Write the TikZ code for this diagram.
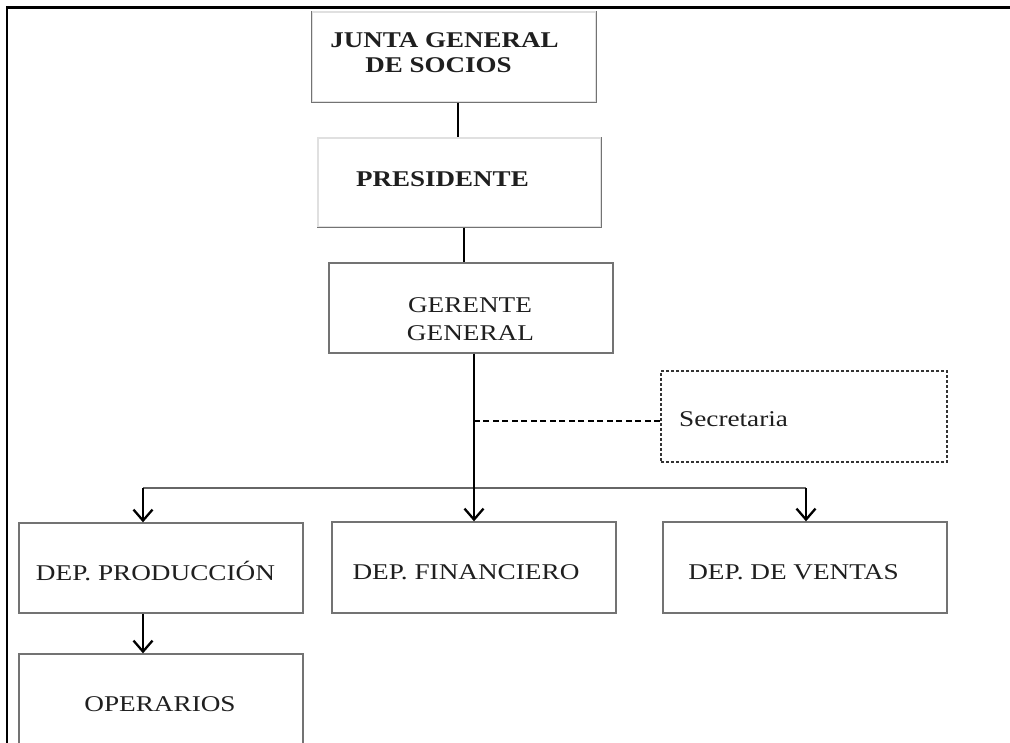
\documentclass[tikz,border=0pt]{standalone}
\usepackage{fontspec}
\setmainfont{Liberation Serif}
\usepackage{graphicx}
\usetikzlibrary{arrows.meta}
\newcommand{\sxr}[1]{\scalebox{1.21}[1]{#1}}
\newcommand{\sxb}[1]{\scalebox{1.2}[1]{#1}}
\begin{document}
\begin{tikzpicture}[x=1pt,y=-1pt,
  box/.style={draw=black!55, line width=1.3pt, inner sep=0pt, minimum width=284pt, minimum height=90pt},
  faintbox/.style={box, draw=black!12},
  boxline/.style={draw=black!55, line width=1.3pt},
  secbox/.style={box, draw=black!80, line width=1.8pt, dash pattern=on 3pt off 2pt, minimum width=286pt, minimum height=91pt},
  txt/.style={anchor=base, inner sep=0pt, text=black!88, font=\fontsize{22.5}{27}\selectfont},
  btxt/.style={txt, font=\fontsize{22.5}{27}\selectfont\bfseries},
  link/.style={draw=black, line width=1.3pt},
  trunk/.style={draw=black, line width=2.6pt},
  bus/.style={draw=black!60, line width=1.4pt},
  arr/.style={draw=black, line width=2.3pt, line join=round, -{Straight Barb[length=11pt,width=19pt]}},
  dashlink/.style={draw=black, line width=1.6pt, dash pattern=on 6pt off 3.5pt}
]
\useasboundingbox (0,0) rectangle (1010,743);
\clip (0,0) rectangle (1010,743);
\fill[white] (0,0) rectangle (1010,743);

% outer frame (left and top only)
\draw[line width=2.4pt] (7,745) -- (7,7.5) -- (1012,7.5);

% boxes
\node[faintbox] (jun) at (454,57) {};
\draw[boxline] (jun.north west) -- (jun.south west) -- (jun.south east) -- (jun.north east);
\node[faintbox, minimum width=283pt, minimum height=89pt] (pres) at (459.5,182.5) {};
\draw[boxline] (pres.north east) -- (pres.south east) -- (pres.south west);
\node[box] (ger) at (471,308) {};
\node[secbox] (sec) at (804,416.5) {};
\node[box] (prod) at (161,568) {};
\node[box, minimum height=91pt] (fin) at (474,567.5) {};
\node[box, minimum height=91pt] (ven) at (805,567.5) {};
\node[box, minimum height=100pt] (oper) at (161,704) {};

% texts
\node[btxt] (junA) at (444.5,48) {\sxb{JUNTA GENERAL}};
\node[btxt] (junB) at (438.5,73) {\sxb{DE SOCIOS}};
\node[btxt] (presT) at (442.5,187) {\sxb{PRESIDENTE}};
\node[txt] (gerA) at (470,313) {\sxr{GERENTE}};
\node[txt] (gerB) at (470.5,341) {\sxr{GENERAL}};
\node[txt, anchor=base west] (secT) at (679,427) {\sxr{Secretaria}};
\node[txt] (prodT) at (155.5,580) {\sxr{DEP. PRODUCCIÓN}};
\node[txt] (finT) at (466,579) {\sxr{DEP. FINANCIERO}};
\node[txt] (venT) at (793.5,579) {\sxr{DEP. DE VENTAS}};
\node[txt] (operT) at (160,711) {\sxr{OPERARIOS}};

% connectors
\draw[link] ([xshift=-1.5pt]pres.north |- jun.south) -- ([xshift=-1.5pt]pres.north);
\draw[link] ([xshift=4.5pt]pres.south) -- ([xshift=4.5pt]pres.south |- ger.north);
\draw[trunk] (fin.north |- ger.south) -- ([yshift=-22pt]fin.north |- ger.south);
\coordinate (busL) at (143,488);
\coordinate (busR) at (806,488);
\draw[bus] (busL) -- (busR);
\draw[trunk] (fin.north |- ger.south) -- (fin.north |- busL);
\draw[arr] (fin.north |- busL) -- (fin.north);
\draw[dashlink] ([yshift=-4.5pt]sec.west) -- ([yshift=-4.5pt]sec.west -| fin.north);
\draw[arr] (busL) -- (busL |- prod.north);
\draw[arr] (busR) -- (busR |- ven.north);
\draw[arr] (busL |- prod.south) -- (busL |- oper.north);
\end{tikzpicture}
\end{document}
